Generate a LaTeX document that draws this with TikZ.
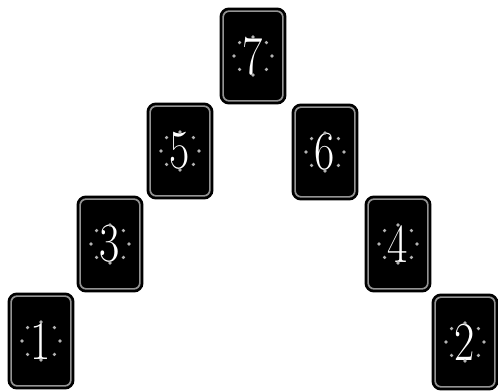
\documentclass[tikz,border=0pt]{standalone}
\usepackage{graphicx}
\usetikzlibrary{calc}

\newcommand{\cardnum}[1]{\scalebox{0.8}[1]{#1}}

\begin{document}
\begin{tikzpicture}[
  x=0.03cm, y=-0.03cm,
  card/.style={draw=black, line width=2.4pt, double=black!42,
               double distance=1.4pt, fill=black, rounded corners=5pt,
               minimum width=1.79cm, minimum height=2.69cm, inner sep=0pt,
               text=white, font=\fontsize{47}{47}\selectfont},
  pip/.style={fill=black!30},
]
  \useasboundingbox (0,0) rectangle (498,391);

  % Left side of the pyramid
  \node[card] (c1) at (41, 341) {\cardnum{1}};
  \node[card] (c3) at (110, 244) {\cardnum{3}};
  \node[card] (c5) at (180, 151) {\cardnum{5}};

  % Top card
  \node[card] (c7) at (253, 56) {\cardnum{7}};

  % Right side of the pyramid
  \node[card] (c6) at (325, 152) {\cardnum{6}};
  \node[card] (c4) at (398, 244) {\cardnum{4}};
  \node[card] (c2) at (465, 342) {\cardnum{2}};

  % Ring of dots round each number
  \foreach \c in {c1,c2,c3,c4,c5,c6,c7}
    \foreach \a in {0,45,...,315}
      \fill[pip] (\c) ++(\a:19) circle (1.8);
\end{tikzpicture}
\end{document}
